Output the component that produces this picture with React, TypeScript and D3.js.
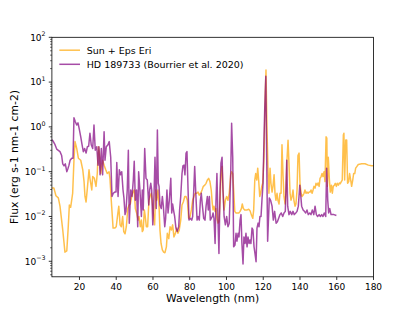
import React from 'react';
import * as d3 from 'd3';

// [wavelength (nm), flux (erg s-1 nm-1 cm-2)]
const sunSpectrum: [number, number][] = [
  [5.0,0.043],[6.1,0.043],[7.2,0.029],[8.5,0.026],[9.4,0.017],[10.9,0.005],[12.1,0.0016],[13.1,0.0017],[13.9,0.0059],[14.5,0.018],
  [15.2,0.016],[16.3,0.033],[17.0,0.18],[17.6,0.47],[18.5,0.33],[19.4,0.2],[20.7,0.18],[21.8,0.11],[22.5,0.06],[23.0,0.028],
  [23.6,0.021],[24.3,0.043],[25.2,0.11],[25.7,0.071],[26.7,0.039],[27.2,0.078],[28.1,0.071],[29.0,0.047],[29.7,0.091],[30.3,0.36],
  [30.8,0.28],[31.6,0.091],[32.6,0.18],[33.4,0.14],[34.3,0.11],[35.1,0.091],[36.1,0.1],[36.6,0.071],[37.3,0.023],[38.3,0.0055],
  [39.2,0.0055],[40.0,0.0059],[40.8,0.011],[41.4,0.017],[42.1,0.0065],[42.8,0.0059],[43.5,0.01],[44.1,0.0046],[44.8,0.0041],[45.5,0.0059],
  [46.3,0.015],[47.0,0.018],[47.7,0.019],[48.4,0.028],[49.1,0.035],[49.8,0.039],[50.4,0.015],[51.1,0.012],[51.9,0.0083],[52.4,0.01],
  [53.1,0.0059],[53.7,0.0083],[54.2,0.0046],[54.7,0.005],[55.3,0.014],[55.8,0.01],[56.4,0.0059],[57.1,0.0059],[57.8,0.023],[58.4,0.028],
  [59.1,0.033],[59.6,0.023],[60.4,0.0091],[60.9,0.0065],[61.5,0.039],[62.0,0.023],[62.7,0.039],[63.3,0.017],[63.8,0.005],[64.4,0.0025],
  [65.1,0.0018],[65.8,0.0016],[66.5,0.00155],[67.3,0.0021],[67.8,0.0042],[68.6,0.0032],[69.3,0.0059],[70.0,0.005],[70.7,0.0065],[71.4,0.0035],
  [72.2,0.0042],[72.9,0.0055],[73.6,0.0042],[74.3,0.005],[75.1,0.0083],[75.8,0.018],[76.5,0.021],[77.3,0.028],[78.0,0.028],[78.7,0.023],
  [79.4,0.0091],[80.2,0.01],[80.9,0.014],[81.6,0.023],[82.3,0.028],[83.0,0.033],[83.8,0.033],[84.5,0.035],[85.2,0.03],[86.0,0.033],
  [86.7,0.039],[87.4,0.047],[88.2,0.05],[88.9,0.055],[89.6,0.065],[90.3,0.071],[91.0,0.06],[91.7,0.039],[92.3,0.019],[92.7,0.014],
  [93.2,0.017],[93.8,0.013],[94.3,0.015],[94.8,0.0091],[95.4,0.0071],[95.9,0.0076],[96.5,0.023],[97.0,0.085],[97.6,0.13],[98.1,0.039],
  [98.7,0.014],[99.4,0.023],[100.1,0.028],[100.8,0.023],[101.5,0.033],[102.3,0.085],[102.8,0.1],[103.4,0.091],[103.9,0.039],[104.5,0.013],
  [105.2,0.012],[105.9,0.012],[106.7,0.012],[107.4,0.013],[108.1,0.015],[108.6,0.019],[109.2,0.015],[109.9,0.014],[110.6,0.014],[111.3,0.014],
  [112.1,0.0145],[112.8,0.0135],[113.5,0.011],[114.3,0.0091],[114.8,0.014],[115.4,0.065],[115.9,0.091],[116.5,0.065],[117.0,0.12],[117.5,0.065],
  [118.1,0.028],[118.6,0.033],[119.2,0.047],[119.7,0.055],[120.4,0.21],[120.8,1.2],[121.1,5.6],[121.5,18.6],[122.0,1.0],[122.6,0.11],
  [123.1,0.033],[123.7,0.12],[124.2,0.055],[124.8,0.035],[125.3,0.047],[125.9,0.085],[126.4,0.033],[126.9,0.023],[127.5,0.033],[128.0,0.023],
  [128.6,0.019],[129.1,0.033],[129.7,0.033],[130.2,0.4],[130.8,0.078],[131.3,0.028],[131.9,0.019],[132.4,0.033],[132.9,0.18],[133.5,0.5],
  [134.0,0.155],[134.6,0.033],[135.1,0.023],[135.7,0.028],[136.2,0.039],[136.7,0.023],[137.3,0.017],[137.8,0.019],[138.4,0.039],[138.9,0.23],
  [139.5,0.26],[140.0,0.055],[140.6,0.033],[141.1,0.028],[141.7,0.03],[142.2,0.033],[142.7,0.039],[143.3,0.033],[143.8,0.035],[144.4,0.033],
  [144.9,0.035],[145.5,0.035],[146.0,0.039],[146.6,0.033],[147.1,0.039],[147.6,0.047],[148.2,0.043],[148.7,0.055],[149.3,0.05],[149.8,0.056],
  [150.4,0.047],[150.9,0.071],[151.5,0.078],[152.0,0.091],[152.5,0.078],[153.1,0.1],[153.6,0.06],[154.2,0.6],[154.6,0.56],[154.9,0.047],
  [155.4,0.21],[156.0,0.065],[156.5,0.035],[157.1,0.05],[157.6,0.033],[158.1,0.047],[158.7,0.05],[159.2,0.055],[159.8,0.047],[160.3,0.055],
  [160.9,0.05],[161.4,0.056],[161.9,0.054],[162.5,0.06],[163.0,0.065],[163.6,0.66],[163.9,0.72],[164.3,0.065],[164.9,0.51],[165.4,0.51],
  [165.9,0.055],[166.5,0.06],[167.0,0.091],[167.6,0.065],[168.1,0.047],[168.7,0.065],[169.2,0.091],[169.8,0.091],[170.3,0.12],[170.9,0.13],
  [171.7,0.145],[173.6,0.15],[175.4,0.15],[177.2,0.14],[179.0,0.135],[180.0,0.135],
];

const hdSpectrum: [number, number][] = [
  [5.0,0.52],[5.8,0.47],[6.7,0.4],[7.6,0.32],[8.5,0.3],[9.4,0.28],[10.3,0.23],[10.9,0.15],[11.6,0.135],[12.3,0.15],
  [13.1,0.1],[13.8,0.12],[14.3,0.14],[14.9,0.18],[15.8,0.2],[16.5,0.2],[17.0,1.6],[17.7,1.32],[18.5,1.1],[19.2,1.23],
  [19.9,0.89],[20.7,0.6],[21.4,0.4],[22.1,0.28],[22.8,0.33],[23.6,0.26],[24.3,0.36],[25.0,0.37],[25.7,0.72],[26.4,0.4],
  [27.2,0.33],[27.9,1.1],[28.6,0.3],[29.4,0.36],[30.1,0.14],[30.6,0.36],[31.2,0.085],[31.9,0.33],[32.6,0.085],[33.4,0.78],
  [33.9,0.18],[34.6,0.36],[35.5,0.4],[36.2,0.47],[37.0,0.21],[37.7,0.028],[38.4,0.033],[39.2,0.035],[39.9,0.035],[40.3,0.16],
  [41.0,0.028],[41.7,0.11],[42.4,0.085],[43.0,0.1],[43.7,0.039],[44.2,0.026],[44.8,0.011],[45.3,0.013],[46.0,0.039],[46.6,0.3],
  [47.1,0.0071],[47.9,0.039],[48.6,0.028],[49.3,0.065],[49.8,0.17],[50.4,0.023],[51.1,0.039],[51.7,0.0059],[52.2,0.1],[52.9,0.039],
  [53.7,0.01],[54.2,0.039],[54.7,0.014],[55.5,0.33],[56.2,0.071],[56.9,0.065],[57.7,0.018],[58.2,0.039],[58.8,0.055],[59.3,0.039],
  [59.9,0.0065],[60.6,0.033],[61.1,0.21],[61.8,0.015],[62.4,0.85],[62.9,0.055],[63.3,0.047],[63.8,0.018],[64.5,0.015],[65.1,0.028],
  [65.6,0.018],[66.4,0.0059],[66.9,0.0091],[67.6,0.039],[68.2,0.012],[68.9,0.023],[69.7,0.071],[70.2,0.012],[70.7,0.019],[71.3,0.013],
  [71.8,0.01],[72.5,0.0055],[73.2,0.0046],[74.0,0.0059],[74.5,0.014],[75.1,0.028],[75.8,0.091],[76.3,0.135],[76.9,0.14],[77.4,0.085],
  [78.0,0.26],[78.5,0.28],[79.1,0.039],[79.6,0.0083],[80.3,0.0091],[81.1,0.0083],[81.6,0.01],[82.2,0.039],[82.7,0.13],[83.3,0.033],
  [84.0,0.0083],[84.5,0.01],[85.2,0.0083],[85.8,0.023],[86.3,0.033],[86.8,0.019],[87.6,0.0091],[88.3,0.0083],[88.9,0.017],[89.6,0.028],
  [90.1,0.014],[90.7,0.028],[91.2,0.0083],[91.7,0.0091],[92.3,0.01],[92.7,0.012],[93.2,0.0091],[93.8,0.0025],[94.3,0.023],[94.8,0.091],
  [95.4,0.0076],[95.9,0.0015],[96.5,0.039],[97.0,0.155],[97.6,0.21],[98.1,0.039],[98.7,0.01],[99.4,0.0065],[100.1,0.01],[100.8,0.0059],
  [101.5,0.0071],[102.3,0.091],[102.8,1.2],[103.4,0.21],[103.9,0.0021],[104.6,0.0023],[105.2,0.0042],[105.7,0.0028],[106.3,0.0042],[106.8,0.0035],
  [107.4,0.0083],[107.9,0.011],[108.4,0.0025],[109.0,0.00087],[109.5,0.0035],[110.1,0.0025],[110.6,0.0042],[111.2,0.0021],[111.7,0.0035],[112.3,0.0025],
  [112.8,0.003],[113.3,0.0025],[113.9,0.0055],[114.4,0.005],[115.0,0.0021],[115.5,0.0015],[116.1,0.00098],[116.6,0.0055],[117.2,0.0071],[117.7,0.0059],
  [118.2,0.01],[118.8,0.01],[119.3,0.023],[119.9,0.055],[120.4,0.51],[120.8,2.4],[121.1,5.6],[121.4,13.5],[121.9,0.18],[122.4,0.0028],
  [123.3,0.026],[124.0,0.023],[124.8,0.017],[125.5,0.0083],[126.2,0.013],[127.0,0.0071],[127.7,0.0076],[128.4,0.0091],[129.1,0.011],[129.8,0.012],
  [130.6,0.01],[131.3,0.012],[132.0,0.013],[132.8,0.18],[133.3,0.017],[134.0,0.011],[134.7,0.013],[135.5,0.011],[136.2,0.013],[136.9,0.011],
  [137.7,0.012],[138.4,0.013],[139.1,0.017],[139.9,0.05],[140.4,0.03],[140.9,0.017],[141.7,0.014],[142.4,0.013],[143.1,0.012],[143.8,0.014],
  [144.5,0.011],[145.3,0.012],[146.0,0.011],[146.7,0.014],[147.5,0.011],[148.2,0.017],[148.9,0.011],[149.6,0.01],[150.4,0.011],[151.1,0.01],
  [151.8,0.011],[152.5,0.01],[153.2,0.012],[154.0,0.01],[154.5,0.12],[155.1,0.023],[155.6,0.012],[156.2,0.015],[156.9,0.011],[157.6,0.011],
  [158.5,0.011],[159.8,0.0105],
];

const xTicks = [20, 40, 60, 80, 100, 120, 140, 160, 180];
const yExponents = [-3, -2, -1, 0, 1, 2];
const legendLabels = ['Sun + Eps Eri', 'HD 189733 (Bourrier et al. 2020)'];
const xDomain = [5, 180];
const yDomain = [4.5e-4, 100];

const W = 415;
const H = 311;
const L = 51.9, R = 373.5, T = 37.3, B = 276.8;
const ORANGE = '#FFA500';
const PURPLE = '#800080';
const FONT = 'DejaVu Sans, sans-serif';

export default function App() {
  const x = d3.scaleLinear().domain(xDomain).range([L, R]);
  const y = d3.scaleLog().domain(yDomain).range([B, T]);
  const line = d3.line<[number, number]>().x(d => x(d[0])).y(d => y(d[1]));

  const minor: number[] = [];
  for (let e = -4; e <= 1; e++) {
    for (let k = 2; k <= 9; k++) {
      const v = k * Math.pow(10, e);
      if (v >= yDomain[0] && v <= yDomain[1]) minor.push(v);
    }
  }
  const major = 3.15;
  const minorLen = 1.8;
  const series = [
    { data: sunSpectrum, color: ORANGE },
    { data: hdSpectrum, color: PURPLE },
  ];

  return (
    <svg width={W} height={H} style={{ position: 'absolute', left: 0, top: 0, background: '#fff' }} fontFamily={FONT}>
      <rect x={0} y={0} width={W} height={H} fill="#fff" />
      {series.map((s, i) => (
        <path key={i} d={line(s.data) || ''} fill="none" stroke={s.color} strokeOpacity={0.7} strokeWidth={1.5} strokeLinejoin="round" />
      ))}
      {/* spines */}
      <rect x={L} y={T} width={R - L} height={B - T} fill="none" stroke="#000" strokeWidth={0.8} />
      {/* x ticks */}
      {xTicks.map(t => (
        <g key={t}>
          <line x1={x(t)} x2={x(t)} y1={B} y2={B + major} stroke="#000" strokeWidth={0.8} />
          <text x={x(t)} y={289.5} fontSize={9} textAnchor="middle" fill="#000">{t}</text>
        </g>
      ))}
      {/* y ticks */}
      {yExponents.map(e => {
        const yy = y(Math.pow(10, e));
        const exp = e < 0 ? '\u2212' + Math.abs(e) : String(e);
        return (
          <g key={e}>
            <line x1={L - major} x2={L} y1={yy} y2={yy} stroke="#000" strokeWidth={0.8} />
            <text x={L - 6.3} y={yy + 3.3} fontSize={9} textAnchor="end" fill="#000">
              10<tspan fontSize={6.3} dy={-4.3}>{exp}</tspan>
            </text>
          </g>
        );
      })}
      {minor.map((v, i) => (
        <line key={i} x1={L - minorLen} x2={L} y1={y(v)} y2={y(v)} stroke="#000" strokeWidth={0.6} />
      ))}
      {/* axis labels */}
      <text x={(L + R) / 2} y={301.5} fontSize={10.8} textAnchor="middle" fill="#000">Wavelength (nm)</text>
      <text transform={`translate(18.4,${(T + B) / 2}) rotate(-90)`} fontSize={10.8} textAnchor="middle" fill="#000">
        Flux (erg s-1 nm-1 cm-2)
      </text>
      {/* legend */}
      {legendLabels.map((lab, i) => {
        const ly = 50.2 + i * 14.1;
        return (
          <g key={lab}>
            <line x1={59.3} x2={80} y1={ly} y2={ly} stroke={series[i].color} strokeOpacity={0.7} strokeWidth={1.5} />
            <text x={86.7} y={ly + 3.4} fontSize={9.5} fill="#000">{lab}</text>
          </g>
        );
      })}
    </svg>
  );
}
